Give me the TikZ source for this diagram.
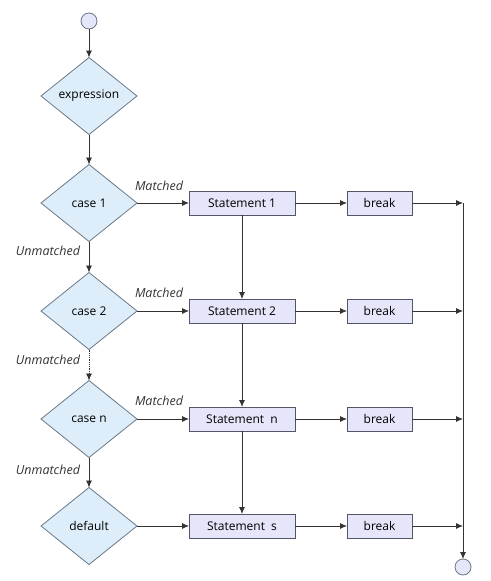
\documentclass[tikz,border=0pt]{standalone}
\usepackage{fontspec}
\setmainfont{Open Sans}
\usetikzlibrary{shapes.geometric,arrows.meta}
\definecolor{dfill}{HTML}{DDEEFA}
\definecolor{dline}{HTML}{6A7888}
\definecolor{sfill}{HTML}{E6E6FA}
\definecolor{sline}{HTML}{55556A}
\definecolor{aline}{HTML}{333333}
\tikzset{
  decision/.style={diamond, draw=dline, fill=dfill, line width=0.8pt, aspect=1.25,
    minimum width=96pt, minimum height=77pt, inner sep=0pt, outer sep=0pt, font=\fontsize{12}{14}\selectfont},
  stmt/.style={rectangle, draw=sline, fill=sfill, line width=0.8pt, minimum width=106pt,
    minimum height=24pt, inner sep=0pt, outer sep=0pt, font=\fontsize{12}{14}\selectfont},
  brk/.style={stmt, minimum width=65pt},
  terminal/.style={circle, draw=dline, fill=sfill, line width=0.8pt, minimum size=16pt, inner sep=0pt, outer sep=0pt},
  lbl/.style={font=\fontsize{12.5}{14}\selectfont\itshape, text=aline},
  arrow/.style={-{Latex[length=7pt,width=6pt]}, draw=aline, line width=0.8pt},
}
\begin{document}
\begin{tikzpicture}[x=1pt,y=1pt]
\useasboundingbox (0,0) rectangle (490,-581);

\node[terminal] (start) at (89,-21) {};
\node[decision] (expr) at (89,-96) {expression};

\node[decision] (c1) at (89,-203) {case 1};
\node[decision] (c2) at (89,-311) {case 2};
\node[decision] (cn) at (89,-419) {case n};
\node[decision] (def) at (89,-526) {default};

\node[stmt] (s1) at (242,-203) {Statement 1};
\node[stmt] (s2) at (242,-311) {Statement 2};
\node[stmt] (sn) at (242,-419) {Statement\ \ n};
\node[stmt] (ss) at (242,-526) {Statement\ \ s};

\node[brk] (b1) at (379.5,-203) {break};
\node[brk] (b2) at (379.5,-311) {break};
\node[brk] (bn) at (379.5,-419) {break};
\node[brk] (bs) at (379.5,-526) {break};

\coordinate (r1) at (463,-203);
\coordinate (r2) at (463,-311);
\coordinate (rn) at (463,-419);
\coordinate (rs) at (463,-526);
\node[terminal] (end) at (463,-567) {};

% labels
\node[lbl] at (159,-186) {Matched};
\node[lbl] at (159,-293) {Matched};
\node[lbl] at (159,-401) {Matched};
\node[lbl] at (48,-251) {Unmatched};
\node[lbl] at (48,-360) {Unmatched};
\node[lbl] at (48,-470) {Unmatched};

% flow down the left
\draw[arrow] (start) -- (expr);
\draw[arrow] (expr) -- (c1);
\draw[arrow] (c1) -- (c2);
\draw[arrow, densely dotted] (c2) -- (cn);
\draw[arrow] (cn) -- (def);

% matched branches
\draw[arrow] (c1) -- (s1);
\draw[arrow] (c2) -- (s2);
\draw[arrow] (cn) -- (sn);
\draw[arrow] (def) -- (ss);

% fall through
\draw[arrow] (s1) -- (s2);
\draw[arrow] (s2) -- (sn);
\draw[arrow] (sn) -- (ss);

% breaks
\draw[arrow] (s1) -- (b1);
\draw[arrow] (s2) -- (b2);
\draw[arrow] (sn) -- (bn);
\draw[arrow] (ss) -- (bs);
\draw[arrow] (b1) -- (r1);
\draw[arrow] (b2) -- (r2);
\draw[arrow] (bn) -- (rn);
\draw[arrow] (bs) -- (rs);
\draw[arrow] (r1) -- (end);
\end{tikzpicture}
\end{document}
